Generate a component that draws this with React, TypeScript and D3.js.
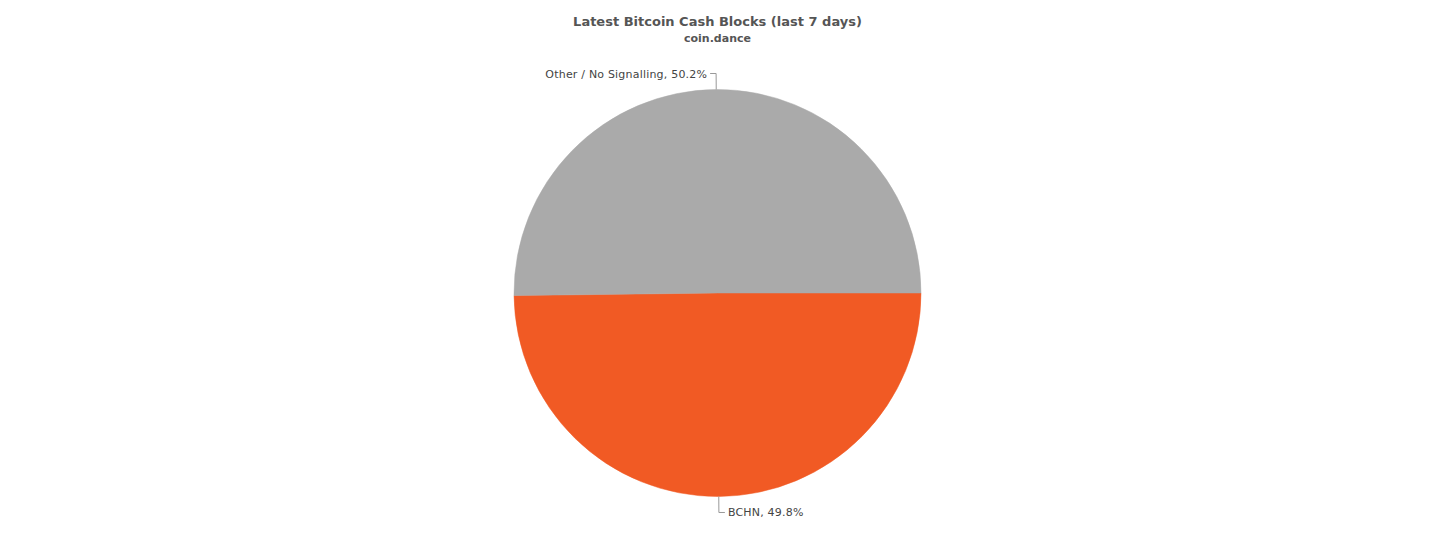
import React from 'react';
import * as d3 from 'd3';

// slice names and shares (%) in drawing order, clockwise from 3 o'clock
const labels = ['BCHN', 'Other / No Signalling'];
const shares = [49.8, 50.2];
const colors = ['#f15a24', '#aaaaaa'];

const title = 'Latest Bitcoin Cash Blocks (last 7 days)';
const subtitle = 'coin.dance';

const W = 1436;
const H = 550;

const App: React.FC = () => {
  const cx = 717.5;
  const cy = 293;
  const r = 203.5;

  const pie = d3.pie<number>()
    .sort(null)
    .value(d => d)
    .startAngle(Math.PI / 2)
    .endAngle(Math.PI / 2 + Math.PI * 2);
  const arcs = pie(shares);
  const arc = d3.arc<d3.PieArcDatum<number>>().innerRadius(0).outerRadius(r);

  return (
    <div style={{ position: 'absolute', left: 0, top: 0 }}>
      <svg width={W} height={H} style={{ display: 'block', fontFamily: 'Verdana, "DejaVu Sans", sans-serif' }}>
        <rect width={W} height={H} fill="#ffffff" />
        <text x={cx} y={26} textAnchor="middle" fontSize={13} fontWeight="bold" fill="#555555">{title}</text>
        <text x={cx} y={42} textAnchor="middle" fontSize={11} fontWeight="bold" fill="#555555">{subtitle}</text>
        <g transform={`translate(${cx},${cy})`}>
          {arcs.map((a, i) => (
            <path key={labels[i]} d={arc(a) || ''} fill={colors[i]} stroke={colors[i]} strokeWidth={0.5} />
          ))}
          {arcs.map((a, i) => {
            const mid = (a.startAngle + a.endAngle) / 2;
            const sx = Math.sin(mid);
            const sy = -Math.cos(mid);
            const side = sx < 0 ? -1 : 1;
            const x0 = r * sx;
            const y0 = r * sy;
            const x1 = (r + 16) * sx;
            const y1 = (r + 16) * sy;
            const x2 = x1 + side * 6;
            return (
              <g key={'lbl' + i}>
                <path d={`M${x0},${y0}L${x1},${y1}L${x2},${y1}`} fill="none" stroke="#999999" strokeWidth={1} />
                <text x={x2 + side * 3} y={y1 + 4} textAnchor={side < 0 ? 'end' : 'start'} fontSize={11} letterSpacing={0.2} fill="#444444">
                  {`${labels[i]}, ${d3.format('.1f')(shares[i])}%`}
                </text>
              </g>
            );
          })}
        </g>
      </svg>
    </div>
  );
};

export default App;
